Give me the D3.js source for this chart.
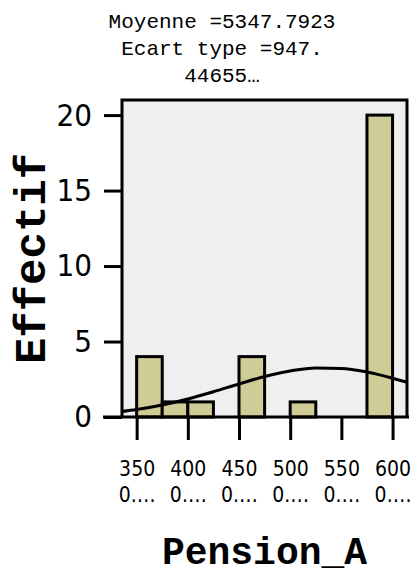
<!DOCTYPE html>
<html>
<head>
<meta charset="utf-8">
<script src="https://cdn.jsdelivr.net/npm/d3@7"></script>
<style>
  body { margin: 0; background: #fff; }
</style>
</head>
<body>
<div id="chart"></div>
<script>
// histogram bins (lower edge) and their counts
const binStarts = [3500, 3750, 4000, 4250, 4500, 4750, 5000, 5250, 5500, 5750];
const binCounts = [4, 1, 1, 0, 4, 0, 1, 0, 0, 20];
const binWidth = 250;

// normal curve
const curveX = [3357, 3500, 3750, 4000, 4250, 4500, 4750, 5000, 5250, 5500, 5750, 6000, 6141];
const curveY = [0.36, 0.49, 0.79, 1.19, 1.67, 2.19, 2.68, 3.05, 3.25, 3.22, 2.98, 2.57, 2.30];

const xTicks = [3500, 4000, 4500, 5000, 5500, 6000];
const xTickLines = [["350", "0.…"], ["400", "0.…"], ["450", "0.…"], ["500", "0.…"], ["550", "0.…"], ["600", "0.…"]];
const yTicks = [0, 5, 10, 15, 20];
const titleLines = ["Moyenne =5347.7923", "Ecart type =947.", "44655…"];

const W = 416, H = 577;
const plot = {l: 122, r: 407, t: 100, b: 417};
const narrow = "'Liberation Sans Narrow', 'DejaVu Sans Condensed', sans-serif";
const mono = "'Courier New', 'Liberation Mono', monospace";

const svg = d3.select("#chart").append("svg")
    .attr("width", W)
    .attr("height", H);
svg.append("rect").attr("width", W).attr("height", H).attr("fill", "#fff");

let x = d3.scaleLinear().domain([3357, 6141]).range([plot.l, plot.r]);
let y = d3.scaleLinear().domain([0, 21]).range([plot.b, plot.t]);

//plot background
svg.append("rect")
    .attr("x", plot.l).attr("y", plot.t)
    .attr("width", plot.r - plot.l).attr("height", plot.b - plot.t)
    .attr("fill", "#efefef");

//bars
svg.append("g").selectAll("rect")
    .data(binStarts.map((s, i) => ({s: s, c: binCounts[i]})).filter(d => d.c > 0))
    .join("rect")
    .attr("x", d => x(d.s))
    .attr("y", d => y(d.c))
    .attr("width", d => x(d.s + binWidth) - x(d.s))
    .attr("height", d => y(0) - y(d.c))
    .attr("fill", "#d0cc96")
    .attr("stroke", "#000")
    .attr("stroke-width", 3);

//normal curve
let line = d3.line()
    .x((d, i) => x(curveX[i]))
    .y(d => y(d))
    .curve(d3.curveMonotoneX);
svg.append("path")
    .attr("d", line(curveY))
    .attr("fill", "none")
    .attr("stroke", "#000")
    .attr("stroke-width", 3);

//frame: left, top, right
svg.append("path")
    .attr("d", `M${plot.l},${plot.b} V${plot.t} H${plot.r} V${plot.b}`)
    .attr("fill", "none")
    .attr("stroke", "#000")
    .attr("stroke-width", 3);
//bottom line
svg.append("line")
    .attr("x1", 103).attr("x2", plot.r + 2)
    .attr("y1", plot.b).attr("y2", plot.b)
    .attr("stroke", "#000")
    .attr("stroke-width", 3);

//y axis
let yAxis = svg.append("g")
    .attr("transform", `translate(${plot.l},0)`)
    .call(d3.axisLeft(y).tickValues(yTicks).tickSize(18).tickPadding(12));
yAxis.select(".domain").remove();
yAxis.selectAll(".tick line").attr("stroke", "#000").attr("stroke-width", 3);
yAxis.selectAll(".tick text")
    .attr("fill", "#000")
    .attr("font-family", narrow)
    .attr("font-size", 31);

//x axis
let xAxis = svg.append("g")
    .attr("transform", `translate(0,${plot.b})`)
    .call(d3.axisBottom(x).tickValues(xTicks).tickSize(23).tickFormat(""));
xAxis.select(".domain").remove();
xAxis.selectAll(".tick line").attr("stroke", "#000").attr("stroke-width", 3);
xAxis.selectAll(".tick").each(function(d, i) {
    let t = d3.select(this).append("text")
        .attr("text-anchor", "middle")
        .attr("fill", "#000")
        .attr("font-family", narrow)
        .attr("font-size", 21);
    t.append("tspan").attr("x", 0).attr("y", 59).text(xTickLines[i][0]);
    t.append("tspan").attr("x", 0).attr("y", 85).text(xTickLines[i][1]);
});

//title
svg.append("text")
    .attr("text-anchor", "middle")
    .attr("font-family", mono)
    .attr("font-size", 21)
    .attr("fill", "#000")
    .selectAll("tspan")
    .data(titleLines)
    .join("tspan")
    .attr("x", 222)
    .attr("y", (d, i) => 28 + i * 27)
    .text(d => d);

//axis titles
svg.append("text")
    .attr("transform", `translate(45, ${(plot.t + plot.b) / 2}) rotate(-90)`)
    .attr("text-anchor", "middle")
    .attr("font-family", mono)
    .attr("font-weight", "bold")
    .attr("font-size", 44)
    .attr("fill", "#000")
    .text("Effectif");

svg.append("text")
    .attr("x", (plot.l + plot.r) / 2)
    .attr("y", 564)
    .attr("text-anchor", "middle")
    .attr("font-family", mono)
    .attr("font-weight", "bold")
    .attr("font-size", 38)
    .attr("fill", "#000")
    .text("Pension_A");
</script>
</body>
</html>
